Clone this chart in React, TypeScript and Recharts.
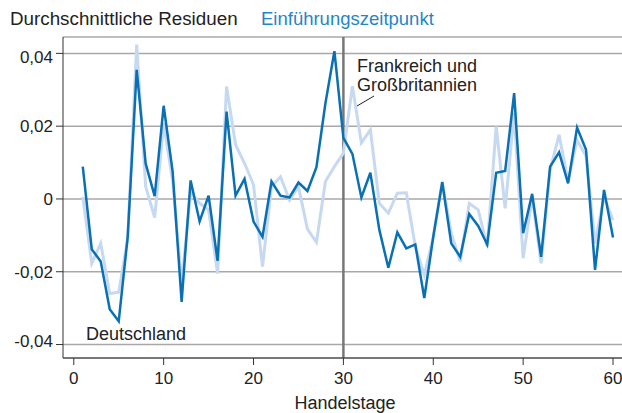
import React from 'react';
import {
  LineChart,
  Line,
  XAxis,
  YAxis,
  CartesianGrid,
  ReferenceLine,
} from 'recharts';

// Durchschnittliche Residuen je Handelstag (1..60)
const deutschland = [
  0.0089, -0.0138, -0.0172, -0.0303, -0.0336, -0.0104, 0.0355, 0.0097, 0.0008, 0.0256,
  0.0075, -0.0283, 0.0051, -0.0062, 0.0009, -0.017, 0.024, 0.0009, 0.0055, -0.0062,
  -0.0104, 0.0048, 0.0009, 0.0004, 0.0045, 0.0022, 0.0087, 0.0263, 0.0406, 0.0168,
  0.0124, 0.0004, 0.0072, -0.0085, -0.0189, -0.0092, -0.0136, -0.0125, -0.0272, -0.0104,
  0.0046, -0.0122, -0.0159, -0.0041, -0.0074, -0.0125, 0.0072, 0.0077, 0.0291, -0.0094,
  0.0014, -0.0159, 0.0089, 0.0128, 0.0043, 0.0196, 0.0135, -0.0195, 0.0025, -0.0106,
];

const frankreichGB = [
  0.0006, -0.0177, -0.0122, -0.026, -0.0256, -0.0108, 0.0424, 0.0034, -0.0051, 0.0208,
  0.005, -0.0232, 0.0018, -0.0012, -0.003, -0.0205, 0.0309, 0.0149, 0.0098, 0.0039,
  -0.0186, 0.0034, 0.0061, -0.0003, 0.0034, -0.0083, -0.0119, 0.0048, 0.0089, 0.0126,
  0.031, 0.0154, 0.019, -0.0012, -0.0039, 0.0016, 0.0017, -0.0131, -0.0209, -0.0104,
  0.0048, -0.0094, -0.0172, -0.0012, -0.003, -0.0131, 0.0199, -0.0026, 0.0236, -0.0163,
  0.0006, -0.0177, 0.008, 0.0176, 0.0048, 0.0162, 0.0117, -0.0122, 0.0006, -0.0058,
];

const xTicks = [0, 10, 20, 30, 40, 50, 60];
const yTicks = [-0.04, -0.02, 0, 0.02, 0.04];
const einfuehrungTag = 30;

const data = deutschland.map((v, i) => ({
  day: i + 1,
  de: v,
  frgb: frankreichGB[i],
}));

const FONT = '"Liberation Sans", Arial, Helvetica, sans-serif';
const DARK = '#0a70b5';
const LIGHT = '#c6d9f1';

const fmt = (v: number) => (v === 0 ? '0' : v.toFixed(2).replace('.', ','));

const YTick = (props: any) => {
  const { x, y, payload } = props;
  const v = payload.value;
  const shift = v >= 0.04 ? 4 : v <= -0.04 ? -4 : 0;
  return (
    <text
      x={x}
      y={y + shift}
      dy="0.355em"
      textAnchor="end"
      fill="#222"
      fontSize={17}
      fontFamily={FONT}
    >
      {fmt(v)}
    </text>
  );
};

const App: React.FC = () => {
  return (
    <div style={{ position: 'absolute', left: 0, top: 0, width: 622, height: 413, background: '#fff' }}>
      <LineChart
        width={622}
        height={413}
        data={data}
        margin={{ top: 37, right: 0, left: 0, bottom: 25 }}
      >
        <CartesianGrid vertical={false} stroke="#a8a8a8" strokeWidth={1.5} />
        <XAxis
          dataKey="day"
          type="number"
          domain={[-1.2, 61]}
          ticks={xTicks}
          height={30}
          tickSize={7}
          tickMargin={7}
          stroke="#333"
          tick={{ fill: '#222', fontSize: 17, fontFamily: FONT }}
          allowDataOverflow
        />
        <YAxis
          type="number"
          domain={[-0.0437, 0.0445]}
          ticks={yTicks}
          width={63}
          tickSize={7}
          tickMargin={3}
          stroke="#333"
          tick={<YTick />}
          allowDataOverflow
        />
        <ReferenceLine x={einfuehrungTag} stroke="#777" strokeWidth={2.5} />
        <Line
          type="linear"
          dataKey="frgb"
          stroke={LIGHT}
          strokeWidth={3}
          dot={false}
          isAnimationActive={false}
        />
        <Line
          type="linear"
          dataKey="de"
          stroke={DARK}
          strokeWidth={2.5}
          dot={false}
          isAnimationActive={false}
        />
      </LineChart>
      <svg
        width={622}
        height={413}
        style={{ position: 'absolute', left: 0, top: 0, pointerEvents: 'none' }}
        fontFamily={FONT}
        fontSize={18}
      >
        <text x={10} y={25} fill="#222" fontSize={18.8}>Durchschnittliche Residuen</text>
        <text x={261} y={25} fill="#1f86c8" fontSize={18.5}>Einführungszeitpunkt</text>
        <text x={357} y={72} fill="#222">Frankreich und</text>
        <text x={357} y={91} fill="#222">Großbritannien</text>
        <line x1={357} y1={106} x2={374} y2={96} stroke="#222" strokeWidth={1} />
        <text x={86} y={340} fill="#222">Deutschland</text>
        <text x={345} y={409} fill="#222" textAnchor="middle">Handelstage</text>
      </svg>
    </div>
  );
};

export default App;
